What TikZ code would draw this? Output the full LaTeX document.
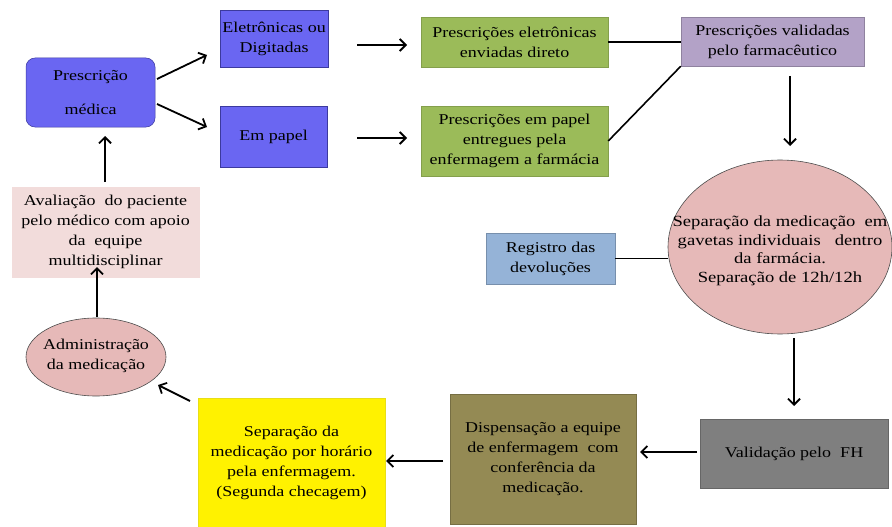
\documentclass[tikz,border=0pt]{standalone}
\usepackage{fontspec}
\setmainfont{Liberation Serif}
\newfontfamily\tms[FakeStretch=1.2]{Liberation Serif}
\usetikzlibrary{shapes.geometric,arrows.meta}
\definecolor{bluebox}{HTML}{6A66F2}
\definecolor{blueedge}{HTML}{3C3A9E}
\definecolor{greenbox}{HTML}{9BBB59}
\definecolor{purplebox}{HTML}{B3A2C7}
\definecolor{pinkell}{HTML}{E6B9B8}
\definecolor{regblue}{HTML}{95B3D7}
\definecolor{graybox}{HTML}{7F7F7F}
\definecolor{olivebox}{HTML}{948A54}
\definecolor{palepink}{HTML}{F2DCDB}
\tikzset{
  box/.style={rectangle, line width=0.5pt, align=center, inner sep=0pt, font=\tms\fontsize{15}{20}\selectfont},
  ell/.style={ellipse, draw=black!70, fill=pinkell, line width=0.6pt, inner sep=0pt},
  elltext/.style={align=center, inner sep=0pt, font=\tms\fontsize{15.5}{18.5}\selectfont},
  arr/.style={line width=1.8pt, -{Straight Barb[length=6pt,width=12pt,line width=1.8pt]}},
  ln/.style={line width=1.6pt}
}
\begin{document}
\begin{tikzpicture}[x=1pt,y=-1pt]
\useasboundingbox (0,0) rectangle (892,527);
% nodes
\node[box, fill=bluebox, draw=blueedge, rounded corners=9pt, minimum width=129pt, minimum height=69pt] (presc) at (90.5,92.5) {Prescrição\\[14pt]médica};
\node[box, fill=bluebox, draw=blueedge, minimum width=108pt, minimum height=57pt] (elet) at (274,38.5) {Eletrônicas ou\\Digitadas};
\node[box, fill=bluebox, draw=blueedge, minimum width=107pt, minimum height=61pt] (papel) at (273.5,136.5) {Em papel};
\node[box, fill=greenbox, draw=greenbox!85!black, minimum width=187pt, minimum height=50pt] (g1) at (514.5,42) {Prescrições eletrônicas\\enviadas direto};
\node[box, fill=greenbox, draw=greenbox!85!black, minimum width=187pt, minimum height=70pt] (g2) at (514.5,141) {Prescrições\ em papel\\entregues pela\\enfermagem\ a farmácia};
\node[box, fill=purplebox, draw=purplebox!80!black, minimum width=183pt, minimum height=49pt] (valid) at (772.5,41.5) {Prescrições validadas\\pelo farmacêutico};
\node[ell, minimum width=224pt, minimum height=174pt] (sep) at (780,247) {};
\node[elltext] (septext) at (780,251) {Separação da medicação\ \ em\\gavetas individuais\ \ \ dentro\\da farmácia.\\Separação de 12h/12h};
\node[box, fill=regblue, draw=regblue!80!black, minimum width=129pt, minimum height=51pt] (reg) at (550.5,258.5) {Registro das\\devoluções};
\node[box, fill=graybox, draw=graybox!80!black, minimum width=188pt, minimum height=69pt] (fh) at (794,453.5) {Validação pelo\ \ FH};
\node[box, fill=olivebox, draw=olivebox!80!black, minimum width=186pt, minimum height=130pt] (disp) at (543,459) {Dispensação a equipe\\de enfermagem\ \ com\\conferência da\\medicação.};
\node[box, fill=yellow, draw=yellow!90!black, minimum width=187pt, minimum height=129pt] (yel) at (291.5,462.5) {Separação da\\medicação por horário\\pela\ enfermagem.\\(Segunda\ checagem)};
\node[ell, minimum width=140pt, minimum height=78pt] (adm) at (96,357) {};
\node[elltext, font=\tms\fontsize{15}{20}\selectfont] (admtext) at (96,356) {Administração\\da medicação};
\node[box, fill=palepink, draw=palepink, minimum width=187pt, minimum height=90pt] (aval) at (105.5,232) {Avaliação\ \ do paciente\\pelo médico com apoio\\da\ \ equipe\\multidisciplinar};
% connector end points
\coordinate (a1s) at (157,79); \coordinate (a1e) at (207,55);
\coordinate (a2s) at (157,104); \coordinate (a2e) at (207,127);
\coordinate (a3s) at (357,45); \coordinate (a3e) at (407,45);
\coordinate (a4s) at (357,138); \coordinate (a4e) at (407,138);
\coordinate (a5s) at (790,76); \coordinate (a5e) at (790,146);
\coordinate (a6s) at (794,338); \coordinate (a6e) at (794,406);
\coordinate (a7s) at (697,452); \coordinate (a7e) at (640,452);
\coordinate (a8s) at (443,461); \coordinate (a8e) at (386,461);
\coordinate (a9s) at (190,401); \coordinate (a9e) at (158,385);
\coordinate (a10s) at (97,317); \coordinate (a10e) at (97,267);
\coordinate (a11s) at (105,182); \coordinate (a11e) at (105,136);
% connectors
\draw[arr] (a1s) -- (a1e);
\draw[arr] (a2s) -- (a2e);
\draw[arr] (a3s) -- (a3e);
\draw[arr] (a4s) -- (a4e);
\draw[ln] (g1.east) -- (g1.east -| valid.west);
\draw[ln] (g2.east) -- (valid.south west);
\draw[arr] (a5s) -- (a5e);
\draw[ln] (reg.east) -- (reg.east -| sep.west);
\draw[arr] (a6s) -- (a6e);
\draw[arr] (a7s) -- (a7e);
\draw[arr] (a8s) -- (a8e);
\draw[arr] (a9s) -- (a9e);
\draw[arr] (a10s) -- (a10e);
\draw[arr] (a11s) -- (a11e);
\end{tikzpicture}
\end{document}
